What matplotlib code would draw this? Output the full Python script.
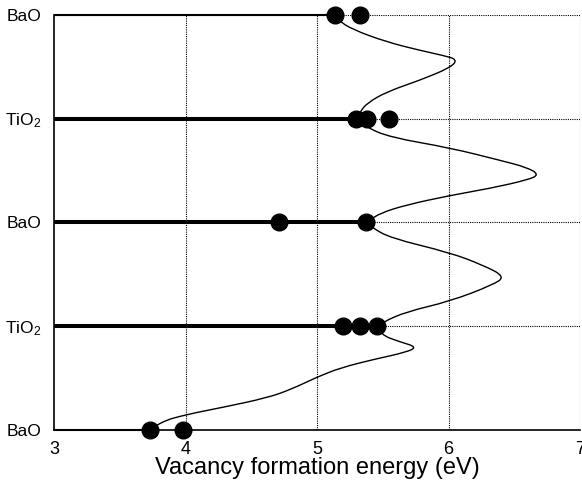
import matplotlib
matplotlib.use('Agg')
import matplotlib.pyplot as plt
from matplotlib.path import Path
from matplotlib.patches import PathPatch

# --- Data ---
# layer positions (bottom to top) and their names
layer_pos = [0, 1, 2, 3, 4]
layer_names = ['BaO', 'TiO$_2$', 'BaO', 'TiO$_2$', 'BaO']

# vacancy formation energies (eV) computed in each layer
e_layer0 = [3.73, 3.98]
e_layer1 = [5.20, 5.33, 5.46]
e_layer2 = [4.71, 5.37]
e_layer3 = [5.30, 5.38, 5.55]
e_layer4 = [5.14, 5.33]
layer_energies = [e_layer0, e_layer1, e_layer2, e_layer3, e_layer4]

# where the profile crosses each layer (end of the layer bar)
bar_end = [3.73, 5.46, 5.37, 5.30, 5.14]

# smooth profile drawn through the layers (energy, position)
curve_e = [3.73, 3.81, 4.01, 4.29, 4.62, 4.80, 5.00, 5.18, 5.43, 5.68, 5.76,
           5.63, 5.48, 5.46,
           5.50, 5.68, 6.01, 6.34, 6.43, 6.26, 6.01, 5.56, 5.42, 5.37,
           5.40, 5.48, 5.68, 6.01, 6.32, 6.60, 6.69, 6.60, 6.39, 6.01, 5.56,
           5.37, 5.30,
           5.33, 5.38, 5.53, 5.78, 6.01, 6.07, 5.96, 5.78, 5.53, 5.27, 5.16,
           5.14]
curve_y = [0.00, 0.08, 0.15, 0.22, 0.31, 0.39, 0.51, 0.60, 0.68, 0.75, 0.80,
           0.85, 0.92, 1.00,
           1.04, 1.14, 1.24, 1.40, 1.48, 1.59, 1.71, 1.85, 1.95, 2.00,
           2.02, 2.09, 2.17, 2.26, 2.33, 2.41, 2.46, 2.53, 2.60, 2.72, 2.82,
           2.92, 3.00,
           3.07, 3.15, 3.26, 3.37, 3.49, 3.57, 3.61, 3.66, 3.74, 3.86, 3.95,
           4.00]

x_ticks = [3, 4, 5, 6, 7]


def smooth_path(xs, ys):
    """Quadratic B-spline path: read points act as control points, the
    path is split at each layer so it passes exactly through the layers."""
    pts = list(zip(xs, ys))
    # split into pieces between layers
    pieces, cur = [], [pts[0]]
    for p in pts[1:]:
        cur.append(p)
        if abs(p[1] - round(p[1])) < 1e-9:
            pieces.append(cur)
            cur = [p]
    verts, codes = [], []
    for piece in pieces:
        verts.append(piece[0])
        codes.append(Path.MOVETO)
        n = len(piece)
        for i in range(1, n - 1):
            ctrl = piece[i]
            if i < n - 2:
                end = ((piece[i][0] + piece[i + 1][0]) / 2,
                       (piece[i][1] + piece[i + 1][1]) / 2)
            else:
                end = piece[n - 1]
            verts += [ctrl, end]
            codes += [Path.CURVE3, Path.CURVE3]
    return Path(verts, codes)


# --- Style ---
plt.rcParams['font.family'] = ['Liberation Sans', 'DejaVu Sans']
plt.rcParams['mathtext.default'] = 'regular'

fig = plt.figure(figsize=(5.82, 4.82), dpi=100)
ax = fig.add_axes([54 / 582, 52 / 482, 526 / 582, 415 / 482])

ax.set_xlim(3, 7)
ax.set_ylim(0, 4)

# dotted grid
for xv in x_ticks[1:]:
    ax.axvline(xv, color='black', lw=0.8, ls=(0, (1, 1)), zorder=1)
for yv in layer_pos[1:]:
    ax.axhline(yv, color='black', lw=0.8, ls=(0, (1, 1)), zorder=1)

# layer bars from the axis to where the profile meets the layer
bar_widths = [1.5, 2.9, 2.9, 2.9, 1.5]
for yv, xe, lw in zip(layer_pos, bar_end, bar_widths):
    ax.plot([3, xe], [yv, yv], color='black', lw=lw,
            solid_capstyle='butt', zorder=2, clip_on=False)

# profile curve
ax.add_patch(PathPatch(smooth_path(curve_e, curve_y), fill=False,
                       edgecolor='black', lw=1.0, zorder=3, clip_on=False))

# energy points
for yv, energies in zip(layer_pos, layer_energies):
    ax.plot(energies, [yv] * len(energies), 'o', color='black', ms=12,
            zorder=4, clip_on=False)

for side in ['top', 'right']:
    ax.spines[side].set_visible(False)
ax.spines['left'].set_linewidth(1.2)
ax.spines['bottom'].set_linewidth(1.2)

ax.set_xticks(x_ticks)
ax.set_xticklabels([str(t) for t in x_ticks])
ax.set_yticks(layer_pos)
ax.set_yticklabels(layer_names)
ax.tick_params(axis='x', length=0, pad=8, labelsize=13)
ax.tick_params(axis='y', length=0, pad=9, labelsize=12.5)

ax.set_xlabel('Vacancy formation energy (eV)', fontsize=17, labelpad=-1)

fig.savefig('out.png', dpi=100)
